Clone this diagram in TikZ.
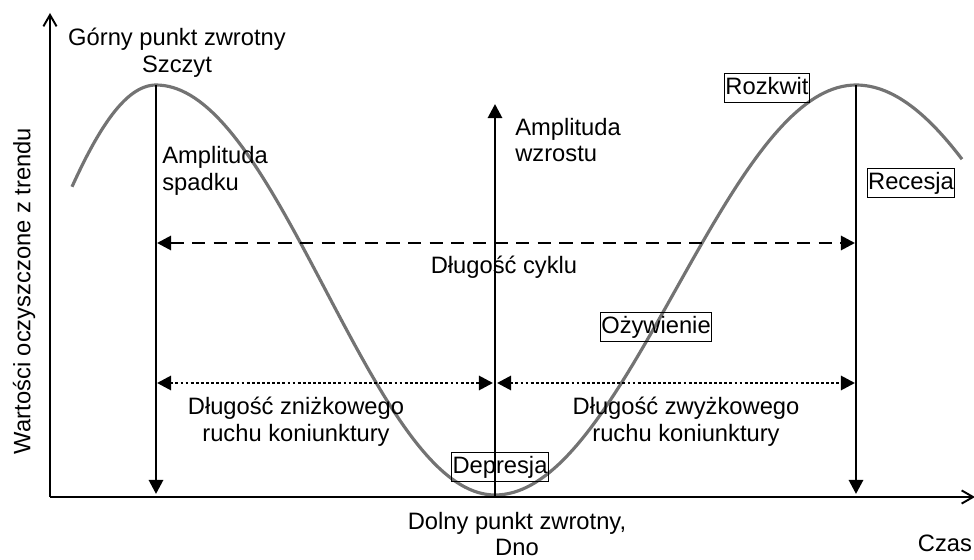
\documentclass[tikz,border=0pt]{standalone}
\usepackage{fontspec}
\setmainfont{Liberation Sans}
\usetikzlibrary{arrows.meta}
\begin{document}
\begin{tikzpicture}[x=0.02cm, y=-0.02cm,
    txt/.style={inner sep=0pt, font=\fontsize{13.5}{15.3}\selectfont},
    phase/.style={txt, draw, line width=0.6pt, inner xsep=0.6pt, inner ysep=2.1pt,
      text height=9.9pt, text depth=2.8pt},
    axis/.style={line width=1.1pt, -{Straight Barb[length=6.5pt,width=7.5pt]}},
    amp/.style={line width=1.6pt, -{Triangle[length=8pt,width=8pt]}},
    span/.style={line width=1.6pt, {Triangle[length=8pt,width=8pt]}-{Triangle[length=8pt,width=8pt]}},
    wave/.style={black!55, line width=1.8pt}]
  \useasboundingbox (0,0) rectangle (974,560);
  \coordinate (origin) at (50,497);
  \coordinate (ytip) at (50,13);
  \coordinate (xtip) at (975,497);
  \coordinate (peakL) at (156,85);
  \coordinate (footL) at (156,494);
  \coordinate (peakR) at (856,85);
  \coordinate (footR) at (856,494);
  \coordinate (trough) at (495,497);
  \coordinate (uptip) at (495,104);
  \coordinate (cycL) at (157,243);
  \coordinate (cycR) at (855,243);
  \coordinate (dotL) at (157,383);
  \coordinate (dotM) at (493,383);
  \coordinate (dotN) at (497,383);
  \coordinate (dotR) at (855,383);

  \draw[wave] plot[domain=72:156, samples=30] (\x,{290-205*cos((\x-156)/253*180)})
    -- plot[domain=156:495, samples=80] (\x,{290-205*cos((\x-156)/339*180)})
    -- plot[domain=495:856, samples=80] (\x,{290+205*cos((\x-495)/361*180)})
    -- plot[domain=856:962, samples=30] (\x,{290-205*cos((\x-856)/379*180)});

  \draw[axis] (origin) -- (ytip);
  \draw[axis] (origin) -- (xtip);
  \draw[amp] (peakL) -- (footL);
  \draw[amp] (peakR) -- (footR);
  \draw[amp] (trough) -- (uptip);
  \draw[span, dash pattern=on 7.5pt off 4.8pt] (cycL) -- (cycR);
  \draw[span, dash pattern=on 1.6pt off 1.3pt] (dotL) -- (dotM);
  \draw[span, dash pattern=on 1.6pt off 1.3pt] (dotN) -- (dotR);

  \node[txt, align=center] (upper) at (177,52.5) {Górny punkt zwrotny\\Szczyt};
  \node[txt, align=left, anchor=west] (ampdown) at (162,170.5) {Amplituda\\spadku};
  \node[txt, align=left, anchor=west] (ampup) at (515,140) {Amplituda\\wzrostu};
  \node[txt] (cycle) at (504,267) {Długość cyklu};
  \node[txt, align=center] (downlen) at (296,421.5) {Długość zniżkowego\\ruchu koniunktury};
  \node[txt, align=center] (uplen) at (686,421.5) {Długość zwyżkowego\\ruchu koniunktury};
  \node[txt, align=center] (lower) at (517,534) {Dolny punkt zwrotny,\\Dno};
  \node[txt] (time) at (945,543.5) {Czas};
  \node[txt, rotate=90] (values) at (24,291) {Wartości oczyszczone z trendu};

  \node[phase] (bloom) at (767,88) {Rozkwit};
  \node[phase] (recess) at (911,183) {Recesja};
  \node[phase] (revive) at (656,327) {Ożywienie};
  \node[phase] (depress) at (500,467) {Depresja};
\end{tikzpicture}
\end{document}
